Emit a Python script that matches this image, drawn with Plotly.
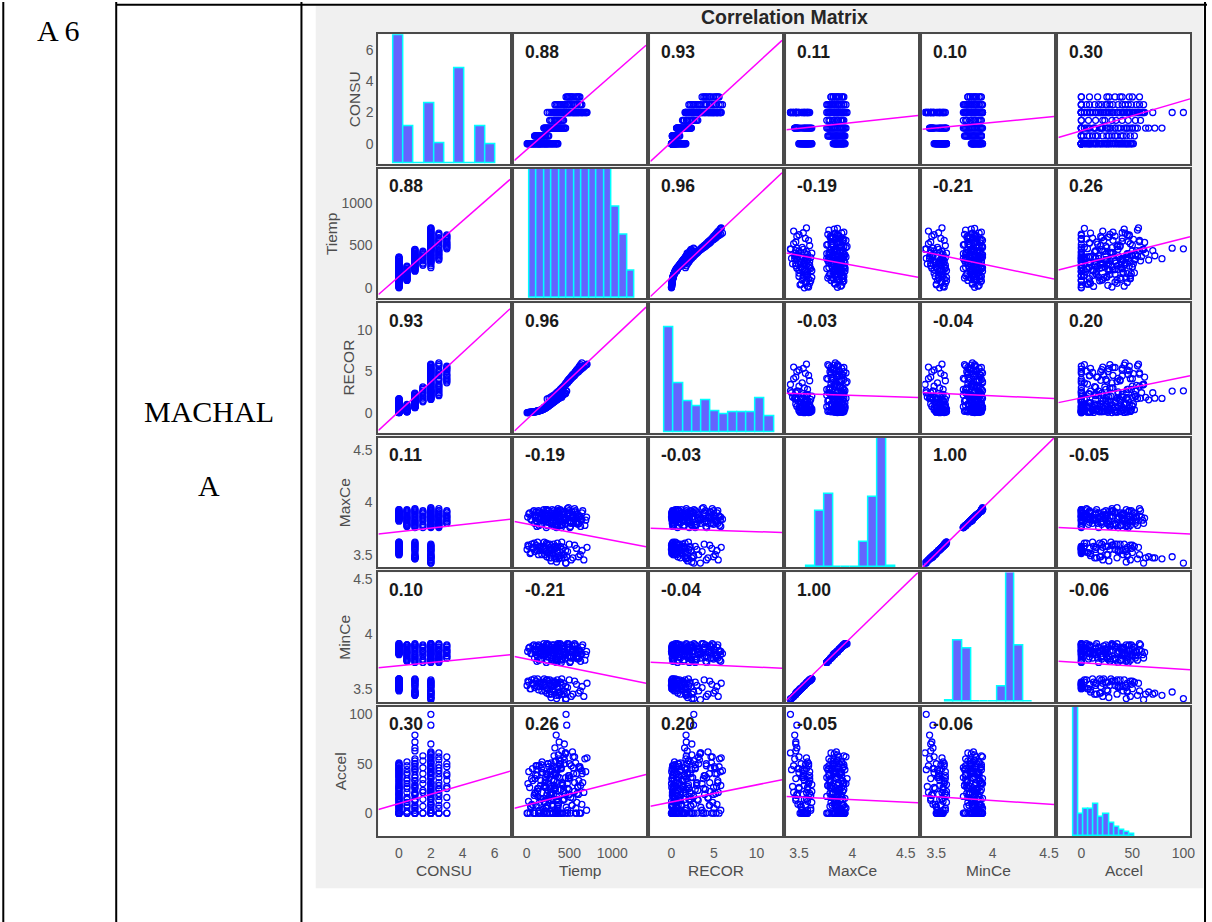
import numpy as np
import plotly.graph_objects as go

W, H = 1212, 922
var_names = ["CONSU", "Tiemp", "RECOR", "MaxCe", "MinCe", "Accel"]

# ---------------- observations (read/estimated from the scatter panels) -------------
consu = [0, 0, 0, 0, 0, 0, 0, 0, 0, 0, 0, 0, 0, 0, 0, 0, 0, 0, 0, 0,
         0, 0, 0, 0, 0, 0, 0, 0, 0, 0, 0, 0, 0, 0, 0, 0,
         0.5, 0.5, 0.5, 0.5, 0.5, 0.5, 0.5, 0.5, 0.5, 0.5, 0.5, 0.5,
         1, 1, 1, 1, 1, 1, 1, 1,
         1, 1, 1, 1, 1, 1, 1, 1, 1, 1,
         1, 1, 1, 1,
         1.5, 1.5, 1.5, 1.5, 1.5, 1.5, 1.5,
         2, 2, 2, 2, 2, 2, 2, 2, 2, 2, 2, 2,
         2, 2, 2,
         2, 2, 2, 2, 2, 2, 2, 2, 2, 2, 2, 2, 2, 2, 2, 2, 2, 2,
         2.5, 2.5, 2.5, 2.5, 2.5, 2.5, 2.5, 2.5, 2.5, 2.5, 2.5, 2.5,
         3, 3, 3, 3, 3, 3, 3,
         0, 0, 0, 0, 0, 0, 0, 0, 0, 0, 0, 0, 0, 0, 0,
         0, 0, 0, 0, 0, 0, 0, 0, 0, 0, 0, 0,
         0.5, 0.5, 0.5, 0.5, 0.5, 0.5, 0.5, 0.5,
         1, 1, 1, 1, 1, 1, 1,
         1, 1, 1, 1, 1, 1, 1, 1,
         1.5, 1.5, 1.5, 1.5, 1.5,
         2, 2, 2, 2, 2, 2, 2, 2, 2, 2,
         2, 2, 2, 2, 2, 2, 2, 2, 2, 2, 2, 2, 2, 2,
         2.5, 2.5, 2.5, 2.5, 2.5, 2.5, 2.5, 2.5,
         3, 3, 3, 3, 3]
tiemp = [5, 22, 40, 58, 75, 95, 110, 128, 145, 160, 178, 195, 212, 230, 250, 268, 290, 315, 340, 365,
         12, 35, 60, 85, 105, 130, 150, 172, 190, 215, 240, 262, 285, 310, 335, 360,
         92, 105, 120, 138, 150, 165, 180, 195, 210, 225, 242, 258,
         200, 235, 270, 305, 340, 375, 410, 455,
         205, 230, 258, 285, 310, 338, 365, 395, 425, 452,
         345, 380, 330, 410,
         268, 295, 320, 350, 378, 405, 432,
         240, 285, 330, 372, 415, 455, 498, 540, 582, 625, 668, 705,
         460, 468, 440,
         305, 325, 348, 370, 392, 418, 440, 462, 488, 512, 535, 560, 585, 610, 632, 655, 680, 700,
         330, 362, 395, 425, 452, 480, 505, 530, 560, 590, 618, 645,
         460, 488, 515, 543, 570, 598, 622,
         15, 48, 68, 88, 120, 138, 152, 170, 205, 222, 240, 278, 300, 330, 355,
         25, 48, 72, 95, 118, 140, 162, 200, 228, 250, 298, 348,
         98, 112, 128, 145, 172, 188, 218, 250,
         215, 250, 288, 322, 358, 392, 430,
         218, 245, 272, 298, 325, 352, 380, 440,
         282, 335, 365, 392, 420,
         262, 308, 350, 395, 435, 478, 520, 560, 605, 648,
         315, 338, 360, 382, 405, 430, 452, 475, 500, 548, 572, 598, 645, 690,
         345, 378, 410, 440, 492, 545, 575, 630,
         475, 502, 530, 585, 610]
recor = [0.0, 0.02, 0.05, 0.06, 0.1, 0.12, 0.15, 0.2, 0.25, 0.3, 0.35, 0.42, 0.5, 0.62, 0.75, 0.9, 1.1, 1.3, 1.5, 1.7,
         0.01, 0.04, 0.07, 0.12, 0.14, 0.2, 0.26, 0.32, 0.4, 0.52, 0.7, 0.85, 1.05, 1.25, 1.45, 1.65,
         0.1, 0.12, 0.16, 0.2, 0.24, 0.3, 0.36, 0.44, 0.55, 0.68, 0.82, 0.98,
         0.6, 0.75, 0.95, 1.2, 1.45, 1.7, 2.0, 2.3,
         0.62, 0.72, 0.9, 1.05, 1.25, 1.5, 1.75, 1.95, 2.15, 2.35,
         1.72, 1.75, 1.55, 1.85,
         1.3, 1.5, 1.75, 2.1, 2.45, 2.8, 3.1,
         1.65, 1.9, 2.2, 2.6, 3.0, 3.4, 3.85, 4.3, 4.75, 5.15, 5.5, 5.85,
         2.63, 2.6, 2.4,
         1.6, 1.85, 2.1, 2.4, 2.65, 2.95, 3.2, 3.45, 3.75, 4.05, 4.3, 4.6, 4.85, 5.05, 5.25, 5.45, 5.65, 5.8,
         2.05, 2.4, 2.8, 3.15, 3.45, 3.8, 4.15, 4.45, 4.8, 5.2, 5.6, 6.0,
         3.6, 3.95, 4.3, 4.65, 4.95, 5.3, 5.6,
         0.01, 0.05, 0.08, 0.11, 0.17, 0.22, 0.27, 0.33, 0.46, 0.56, 0.68, 1.0, 1.2, 1.4, 1.6,
         0.03, 0.05, 0.09, 0.13, 0.17, 0.23, 0.29, 0.46, 0.62, 0.78, 1.15, 1.55,
         0.11, 0.14, 0.18, 0.22, 0.33, 0.4, 0.6, 0.9,
         0.65, 0.85, 1.05, 1.3, 1.6, 1.85, 2.15,
         0.68, 0.8, 0.98, 1.15, 1.38, 1.62, 1.85, 2.25,
         1.4, 1.9, 2.3, 2.6, 2.95,
         1.75, 2.05, 2.4, 2.8, 3.2, 3.6, 4.1, 4.5, 4.95, 5.35,
         1.7, 2.0, 2.25, 2.5, 2.8, 3.05, 3.35, 3.6, 3.9, 4.45, 4.7, 4.95, 5.35, 5.75,
         2.2, 2.6, 3.0, 3.3, 4.0, 4.6, 5.0, 5.8,
         3.8, 4.1, 4.5, 5.15, 5.45]
maxce = [3.55, 3.58, 3.51, 3.60, 3.56, 3.53, 3.59, 3.62, 3.54, 3.57, 3.50, 3.58, 3.55, 3.61, 3.52, 3.57, 3.54, 3.60, 3.56, 3.53,
         3.86, 3.90, 3.83, 3.92, 3.88, 3.85, 3.91, 3.84, 3.89, 3.87, 3.93, 3.85, 3.90, 3.83, 3.88, 3.86,
         3.80, 3.88, 3.77, 3.92, 3.84, 3.79, 3.90, 3.86, 3.82, 3.93, 3.78, 3.85,
         3.56, 3.48, 3.60, 3.52, 3.58, 3.46, 3.62, 3.54,
         3.84, 3.76, 3.92, 3.80, 3.88, 3.78, 3.94, 3.82, 3.86, 3.79,
         3.46, 3.47, 3.48, 3.47,
         3.87, 3.78, 3.92, 3.83, 3.90, 3.76, 3.85,
         3.52, 3.44, 3.58, 3.49, 3.55, 3.42, 3.60, 3.47, 3.56, 3.50, 3.45, 3.57,
         3.42, 3.48, 3.47,
         3.82, 3.90, 3.76, 3.86, 3.93, 3.79, 3.88, 3.84, 3.95, 3.77, 3.85, 3.91, 3.80, 3.87, 3.83, 3.92, 3.78, 3.86,
         3.88, 3.78, 3.92, 3.83, 3.80, 3.90, 3.76, 3.86, 3.94, 3.81, 3.87, 3.84,
         3.84, 3.90, 3.80, 3.87, 3.92, 3.82, 3.86,
         3.59, 3.52, 3.57, 3.61, 3.54, 3.50, 3.58, 3.56, 3.62, 3.53, 3.60, 3.55, 3.51, 3.58, 3.57,
         3.89, 3.84, 3.91, 3.87, 3.82, 3.90, 3.86, 3.93, 3.84, 3.88, 3.85, 3.91,
         3.85, 3.91, 3.81, 3.78, 3.89, 3.83, 3.87, 3.92,
         3.50, 3.59, 3.47, 3.55, 3.61, 3.49, 3.57,
         3.90, 3.81, 3.86, 3.93, 3.77, 3.89, 3.83, 3.91,
         3.82, 3.89, 3.79, 3.86, 3.91,
         3.47, 3.55, 3.43, 3.58, 3.50, 3.53, 3.45, 3.59, 3.48, 3.54,
         3.87, 3.80, 3.92, 3.84, 3.78, 3.89, 3.83, 3.94, 3.81, 3.88, 3.85, 3.79, 3.90, 3.83,
         3.82, 3.90, 3.79, 3.86, 3.92, 3.80, 3.88, 3.77,
         3.88, 3.82, 3.91, 3.85, 3.80]
mince = [3.53, 3.56, 3.50, 3.58, 3.54, 3.51, 3.57, 3.59, 3.52, 3.55, 3.48, 3.56, 3.53, 3.58, 3.50, 3.55, 3.52, 3.57, 3.54, 3.51,
         3.84, 3.88, 3.82, 3.90, 3.86, 3.83, 3.89, 3.82, 3.87, 3.85, 3.91, 3.83, 3.88, 3.82, 3.86, 3.84,
         3.78, 3.86, 3.75, 3.90, 3.82, 3.77, 3.88, 3.84, 3.80, 3.90, 3.76, 3.83,
         3.54, 3.46, 3.58, 3.50, 3.56, 3.44, 3.59, 3.52,
         3.82, 3.74, 3.90, 3.78, 3.86, 3.76, 3.91, 3.80, 3.84, 3.77,
         3.44, 3.46, 3.47, 3.45,
         3.85, 3.76, 3.90, 3.81, 3.88, 3.74, 3.83,
         3.50, 3.42, 3.56, 3.47, 3.53, 3.40, 3.58, 3.45, 3.54, 3.48, 3.43, 3.55,
         3.41, 3.47, 3.45,
         3.80, 3.88, 3.74, 3.84, 3.91, 3.77, 3.86, 3.82, 3.91, 3.75, 3.83, 3.89, 3.78, 3.85, 3.81, 3.90, 3.76, 3.84,
         3.86, 3.76, 3.90, 3.81, 3.78, 3.88, 3.74, 3.84, 3.91, 3.79, 3.85, 3.82,
         3.82, 3.88, 3.78, 3.85, 3.90, 3.80, 3.84,
         3.57, 3.50, 3.55, 3.59, 3.52, 3.49, 3.56, 3.54, 3.59, 3.51, 3.58, 3.53, 3.49, 3.56, 3.55,
         3.87, 3.82, 3.89, 3.85, 3.81, 3.88, 3.84, 3.91, 3.82, 3.86, 3.83, 3.89,
         3.83, 3.89, 3.79, 3.76, 3.87, 3.81, 3.85, 3.90,
         3.48, 3.57, 3.45, 3.53, 3.58, 3.47, 3.55,
         3.88, 3.79, 3.84, 3.90, 3.75, 3.87, 3.81, 3.89,
         3.80, 3.87, 3.77, 3.84, 3.89,
         3.45, 3.53, 3.41, 3.56, 3.48, 3.51, 3.43, 3.57, 3.46, 3.52,
         3.85, 3.78, 3.90, 3.82, 3.76, 3.87, 3.81, 3.91, 3.79, 3.86, 3.83, 3.77, 3.88, 3.81,
         3.80, 3.88, 3.77, 3.84, 3.90, 3.78, 3.86, 3.75,
         3.86, 3.80, 3.89, 3.83, 3.78]
accel = [0, 12, 0, 35, 8, 0, 48, 22, 0, 15, 41, 0, 28, 5, 50, 0, 19, 33, 0, 44,
         0, 26, 9, 0, 39, 17, 0, 45, 4, 31, 0, 13, 51, 0, 24, 37,
         0, 21, 44, 0, 11, 33, 52, 0, 27, 6, 39, 16,
         0, 18, 42, 7, 0, 55, 29, 36,
         12, 0, 47, 25, 0, 38, 5, 53, 0, 20,
         79, 72, 66, 63,
         0, 34, 58, 14, 0, 46, 23,
         0, 27, 52, 9, 0, 61, 38, 15, 0, 45, 21, 56,
         100, 89, 70,
         0, 41, 17, 59, 0, 28, 50, 6, 35, 0, 62, 22, 11, 47, 0, 31, 55, 3,
         25, 0, 49, 13, 61, 0, 36, 8, 57, 20, 0, 43,
         0, 38, 16, 57, 0, 27, 47,
         30, 6, 45, 18, 38, 25, 3, 49, 11, 36, 20, 43, 9, 26, 14,
         42, 7, 33, 20, 48, 2, 28, 15, 40, 23, 8, 46,
         35, 8, 25, 48, 14, 41, 2, 30,
         26, 50, 13, 33, 3, 45, 21,
         33, 8, 19, 44, 28, 0, 50, 14,
         21, 40, 7, 53, 30,
         35, 14, 44, 24, 57, 3, 48, 31, 19, 40,
         24, 53, 8, 36, 45, 14, 60, 30, 19, 40, 51, 26, 9, 42,
         40, 17, 31, 54, 24, 46, 5, 28,
         25, 50, 8, 40, 33]
data = [consu, tiemp, recor, maxce, mince, accel]

# correlation coefficients printed in the panels
corr = [[1.00, 0.88, 0.93, 0.11, 0.10, 0.30],
        [0.88, 1.00, 0.96, -0.19, -0.21, 0.26],
        [0.93, 0.96, 1.00, -0.03, -0.04, 0.20],
        [0.11, -0.19, -0.03, 1.00, 1.00, -0.05],
        [0.10, -0.21, -0.04, 1.00, 1.00, -0.06],
        [0.30, 0.26, 0.20, -0.05, -0.06, 1.00]]

# least-squares lines (y = icpt + slope * x)
fit_slope = [[None, 0.0048, 0.502, 0.74, 0.693, 0.01915],
             [162.8, None, 93.4, -230.0, -274.6, 3.0],
             [1.778, 0.00973, None, -0.43, -0.624, 0.0251],
             [0.0173, -0.000157, -0.0027, None, 1.059, -0.000488],
             [0.0143, -0.000158, -0.00356, 0.9457, None, -0.000605],
             [4.70, 0.02217, 1.729, -5.19, -7.53, None]]
fit_icpt = [[None, -0.383, 0.10, -1.61, -1.408, 0.833],
            [137.0, None, 134.2, 1189.5, 1357.0, 281.5],
            [0.154, -0.83, None, 3.80, 4.537, 1.775],
            [3.719, 3.795, 3.747, None, -0.196, 3.749],
            [3.709, 3.771, 3.733, 0.196, None, 3.737],
            [9.81, 8.24, 11.36, 34.45, 43.0, None]]

# diagonal histograms: bin span (in the column's units) and relative bar heights
hist_lo = [-0.356, 31, -0.78, 3.568, 3.577, -8.2]
hist_hi = [6.06, 1259, 12.05, 4.400, 4.351, 52.2]
hist_heights = [
    [0.99, 0.29, 0, 0.465, 0.16, 0, 0.74, 0, 0.29, 0.147],
    [1.2, 1.2, 1.2, 1.2, 1.2, 1.2, 1.2, 1.2, 1.2, 1.2, 1.2, 0.705, 0.487, 0.213],
    [0.814, 0.38, 0.24, 0.207, 0.25, 0.163, 0.142, 0.155, 0.155, 0.155, 0.264, 0.13],
    [0.008, 0.436, 0.564, 0, 0, 0, 0.197, 0.544, 1.2, 0.008],
    [0.008, 0.474, 0.41, 0, 0, 0, 0.12, 1.2, 0.436, 0],
    [1.2, 0.17, 0.209, 0.209, 0.253, 0.149, 0.17, 0.103, 0.072, 0.052, 0.034, 0.015],
]

# axis limits and ticks
col_range = [[-1.29, 6.97], [-143, 1395], [-2.47, 13.0], [3.382, 4.615], [3.376, 4.545], [-22.5, 106.5]]
row_range = [[-1.28, 7.02], [-116, 1395], [-2.43, 13.2], [3.379, 4.617], [3.38, 4.56], [-23.5, 107.4]]
tick_vals = [[0, 2, 4, 6], [0, 500, 1000], [0, 5, 10], [3.5, 4, 4.5], [3.5, 4, 4.5], [0, 50, 100]]
tick_text = [["0", "2", "4", "6"], ["0", "500", "1000"], ["0", "5", "10"],
             ["3.5", "4", "4.5"], ["3.5", "4", "4.5"], ["0", "50", "100"]]

# ---------------- layout geometry (pixels) ----------------
col_left = [380.0 + j * 136.55 for j in range(6)]
cell_w = 132.2
row_top = [32.3 + i * 134.85 for i in range(6)]
cell_h = 129.7

SANS = "Liberation Sans, Arial, Helvetica, sans-serif"
SERIF = "Liberation Serif, Times New Roman, serif"
TICKFONT = dict(family=SANS, size=14, color="#595959")
FRAME = "#4a4a4a"


def xdom(j):
    return [col_left[j] / W, (col_left[j] + cell_w) / W]


def ydom(i):
    return [1 - (row_top[i] + cell_h) / H, 1 - row_top[i] / H]


fig = go.Figure()
layout_axes = {}
shapes = []
annotations = []

# grey figure background of the MATLAB figure
shapes.append(dict(type="rect", xref="paper", yref="paper", layer="below",
                   x0=317 / W, x1=1208.3 / W, y0=1 - 888.3 / H, y1=1 - 3.5 / H,
                   fillcolor="#f0f0f0", line=dict(width=0)))

for i in range(6):
    for j in range(6):
        k = i * 6 + j + 1
        sfx = "" if k == 1 else str(k)
        xa, ya = "x" + sfx, "y" + sfx
        if i == j:
            n = len(hist_heights[i])
            edges = np.linspace(hist_lo[i], hist_hi[i], n + 1)
            centers = (edges[:-1] + edges[1:]) / 2
            fig.add_trace(go.Bar(x=centers, y=hist_heights[i], width=(hist_hi[i] - hist_lo[i]) / n,
                                 marker=dict(color="#6464ff", line=dict(color="#00ffff", width=1.5)),
                                 xaxis=xa, yaxis=ya, showlegend=False, hoverinfo="skip"))
        else:
            fig.add_trace(go.Scatter(x=data[j], y=data[i], mode="markers",
                                     marker=dict(symbol="circle-open", size=6, color="#0000ff",
                                                 line=dict(width=1.3)),
                                     xaxis=xa, yaxis=ya, showlegend=False, hoverinfo="skip"))
            xl = np.array(col_range[j], dtype=float)
            yl = fit_icpt[i][j] + fit_slope[i][j] * xl
            fig.add_trace(go.Scatter(x=xl, y=yl, mode="lines",
                                     line=dict(color="#ff00ff", width=1.5),
                                     xaxis=xa, yaxis=ya, showlegend=False, hoverinfo="skip"))
            annotations.append(dict(text="<b>%.2f</b>" % corr[i][j], xref=xa + " domain", yref=ya + " domain",
                                    x=0.065, y=0.865, xanchor="left", yanchor="middle", showarrow=False,
                                    font=dict(family=SANS, size=17.5, color="#1a1a1a")))

        # white cell background
        shapes.append(dict(type="rect", xref=xa + " domain", yref=ya + " domain", layer="below",
                           x0=0, x1=1, y0=0, y1=1, fillcolor="white", line=dict(width=0)))

        layout_axes["xaxis" + sfx] = dict(
            domain=xdom(j), anchor=ya, range=col_range[j], showgrid=False, zeroline=False,
            showline=True, mirror=True, linecolor=FRAME, linewidth=2,
            ticks="outside", ticklen=3, tickcolor="rgba(0,0,0,0)",
            tickvals=tick_vals[j], ticktext=tick_text[j], showticklabels=(i == 5),
            tickfont=TICKFONT, fixedrange=True)
        if i == j:
            yr = [0, 1]
        else:
            yr = row_range[i]
        layout_axes["yaxis" + sfx] = dict(
            domain=ydom(i), anchor=xa, range=yr, showgrid=False, zeroline=False,
            showline=True, mirror=True, linecolor=FRAME, linewidth=2,
            ticks="outside", ticklen=1, tickcolor="rgba(0,0,0,0)",
            tickvals=(tick_vals[i] if i != j else []), ticktext=(tick_text[i] if i != j else []),
            showticklabels=(j == 0 and i != j),
            tickfont=TICKFONT, fixedrange=True)

# separate tick axis for the first row on the histogram cell
layout_axes["yaxis37"] = dict(overlaying="y", anchor="x", side="left", range=row_range[0],
                              showgrid=False, zeroline=False, showline=False,
                              ticks="outside", ticklen=1, tickcolor="rgba(0,0,0,0)",
                              tickvals=tick_vals[0], ticktext=tick_text[0],
                              tickfont=TICKFONT, fixedrange=True)
fig.add_trace(go.Scatter(x=[None], y=[None], xaxis="x", yaxis="y37", showlegend=False, hoverinfo="skip"))

# variable names
row_label_x = [356.7, 333.0, 349.0, 346.0, 346.0, 342.0]
for i, name in enumerate(var_names):
    annotations.append(dict(text=name, xref="paper", yref="paper", x=row_label_x[i] / W,
                            y=1 - (row_top[i] + cell_h / 2) / H, textangle=-90,
                            xanchor="center", yanchor="middle", showarrow=False,
                            font=dict(family=SANS, size=15.5, color="#4d4d4d")))
    annotations.append(dict(text=name, xref="paper", yref="paper", x=(col_left[i] + cell_w / 2) / W,
                            y=1 - 870 / H, xanchor="center", yanchor="middle", showarrow=False,
                            font=dict(family=SANS, size=15.5, color="#4d4d4d")))

annotations.append(dict(text="<b>Correlation Matrix</b>", xref="paper", yref="paper", x=788 / W, y=1 - 15 / H,
                        xanchor="center", yanchor="middle", showarrow=False,
                        font=dict(family=SANS, size=19.5, color="#262626")))

# table text
for txt, px, py in [("A 6", 59, 29), ("MACHAL", 209.7, 410), ("A", 209.5, 485)]:
    annotations.append(dict(text=txt, xref="paper", yref="paper", x=px / W, y=1 - py / H,
                            xanchor="center", yanchor="middle", showarrow=False,
                            font=dict(family=SERIF, size=30, color="black")))

# table rules
for xv in [3.3, 116.7, 302.7, 1210.0]:
    shapes.append(dict(type="line", xref="paper", yref="paper", layer="above",
                       x0=xv / W, x1=xv / W, y0=0, y1=1, line=dict(color="black", width=2)))
shapes.append(dict(type="line", xref="paper", yref="paper", layer="above",
                   x0=116.7 / W, x1=1212 / W, y0=1 - 2.7 / H, y1=1 - 2.7 / H,
                   line=dict(color="black", width=2)))

fig.update_layout(width=W, height=H, margin=dict(l=0, r=0, t=0, b=0),
                  paper_bgcolor="white", plot_bgcolor="white",
                  shapes=shapes, annotations=annotations, bargap=0, **layout_axes)

fig.write_html("out.html", config={"displayModeBar": False},
               post_script="document.body.style.margin='0px';document.body.style.overflow='hidden';")
